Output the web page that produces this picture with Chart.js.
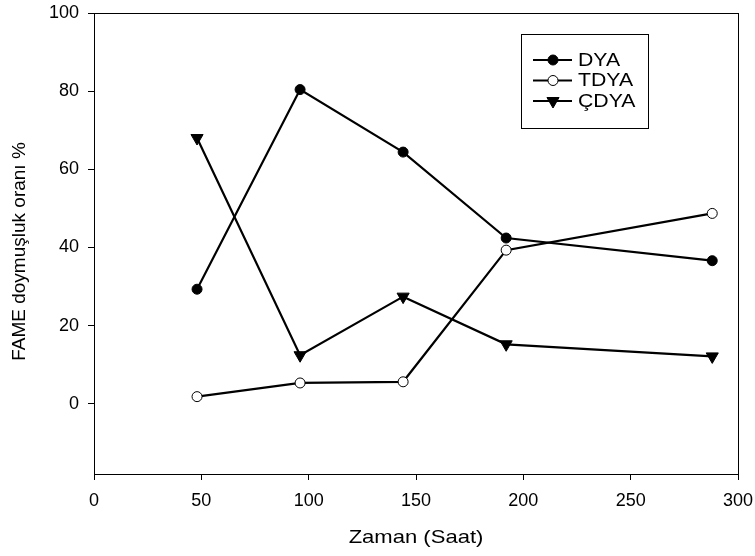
<!DOCTYPE html>
<html>
<head>
<meta charset="utf-8">
<script src="https://cdn.jsdelivr.net/npm/chart.js@4.4.0/dist/chart.umd.min.js"></script>
<style>
  html, body { margin: 0; padding: 0; background: #fff; }
  #wrap { width: 755px; height: 556px; }
</style>
</head>
<body>
<div id="wrap"><canvas id="fameChart"></canvas></div>
<script>
const FONT = "'Liberation Sans', Arial, sans-serif";
Chart.defaults.font.family = FONT;
Chart.defaults.color = "#000";

// Sampling times (hours) and saturation ratios for each fraction
const hours = [48, 96, 144, 192, 288];
const dya = [29.3, 80.4, 64.4, 42.4, 36.6];
const tdya = [1.8, 5.3, 5.6, 39.3, 48.7];
const cdya = [68.0, 12.4, 27.4, 15.2, 12.1];
const xTicks = [0, 50, 100, 150, 200, 250, 300];
const yTicks = [0, 20, 40, 60, 80, 100];
const xTitle = "Zaman (Saat)";
const yTitle = "FAME doymuşluk oranı %";

const toPoints = (vals) => hours.map((h, i) => ({ x: h, y: vals[i] }));

// text drawn slightly wider than the font's natural width
function wideText(ctx, text, x, y, size, align, sx) {
    ctx.save();
    ctx.translate(x, y);
    ctx.scale(sx, 1);
    ctx.font = size + "px " + FONT;
    ctx.textAlign = align;
    ctx.textBaseline = "middle";
    ctx.fillStyle = "#000";
    ctx.fillText(text, 0, 0);
    ctx.restore();
}

// Box around the plot area plus the two axis titles
const frame = {
    id: "frame",
    afterDraw(chart) {
        const { ctx, chartArea: a } = chart;
        ctx.save();
        ctx.strokeStyle = "#000";
        ctx.lineWidth = 1;
        ctx.strokeRect(Math.round(a.left) + 0.5, Math.round(a.top) + 0.5,
            Math.round(a.right - a.left), Math.round(a.bottom - a.top));
        ctx.restore();

        wideText(ctx, xTitle, (a.left + a.right) / 2, 538, 19, "center", 1.16);

        ctx.save();
        ctx.translate(20, (a.top + a.bottom) / 2 + 8);
        ctx.rotate(-Math.PI / 2);
        wideText(ctx, yTitle, 0, 0, 19, "center", 1);
        ctx.restore();
    },
};

// Boxed legend with line-through-marker samples
const boxLegend = {
    id: "boxLegend",
    afterDraw(chart) {
        const { ctx } = chart;
        const x0 = 521, y0 = 34, w = 127, h = 94;
        ctx.save();
        ctx.fillStyle = "#fff";
        ctx.fillRect(x0, y0, w, h);
        ctx.strokeStyle = "#000";
        ctx.lineWidth = 1;
        ctx.strokeRect(x0 + 0.5, y0 + 0.5, w, h);
        chart.data.datasets.forEach((ds, i) => {
            const y = 60 + i * 20.5;
            ctx.strokeStyle = "#000";
            ctx.lineWidth = 2;
            ctx.beginPath();
            ctx.moveTo(533, y);
            ctx.lineTo(572, y);
            ctx.stroke();
            ctx.fillStyle = ds.pointBackgroundColor;
            ctx.lineWidth = 1;
            ctx.beginPath();
            const r = ds.pointRadius;
            if (ds.pointStyle === "circle") {
                ctx.arc(553, y, r, 0, Math.PI * 2);
            } else {
                ctx.moveTo(553 - r * 0.866, y - r / 2);
                ctx.lineTo(553 + r * 0.866, y - r / 2);
                ctx.lineTo(553, y + r);
                ctx.closePath();
            }
            ctx.fill();
            ctx.stroke();
            wideText(ctx, ds.label, 578, y + 1, 18, "left", 1.18);
        });
        ctx.restore();
    },
};

const ctx = document.getElementById("fameChart").getContext("2d");
new Chart(ctx, {
    type: "line",
    data: {
        datasets: [
            {
                label: "DYA",
                data: toPoints(dya),
                borderColor: "#000",
                borderWidth: 2.2,
                pointStyle: "circle",
                pointRadius: 5,
                pointBackgroundColor: "#000",
                pointBorderColor: "#000",
                pointBorderWidth: 1,
            },
            {
                label: "TDYA",
                data: toPoints(tdya),
                borderColor: "#000",
                borderWidth: 2.2,
                pointStyle: "circle",
                pointRadius: 5,
                pointBackgroundColor: "#fff",
                pointBorderColor: "#000",
                pointBorderWidth: 1,
            },
            {
                label: "ÇDYA",
                data: toPoints(cdya),
                borderColor: "#000",
                borderWidth: 2.2,
                pointStyle: "triangle",
                pointRotation: 180,
                pointRadius: 7,
                pointBackgroundColor: "#000",
                pointBorderColor: "#000",
                pointBorderWidth: 1,
            },
        ],
    },
    options: {
        responsive: true,
        maintainAspectRatio: false,
        animation: false,
        layout: { padding: { left: 0, right: 17, top: 13, bottom: 0 } },
        plugins: {
            legend: { display: false },
            tooltip: { enabled: false },
        },
        scales: {
            x: {
                type: "linear",
                min: 0,
                max: 300,
                afterBuildTicks: (s) => { s.ticks = xTicks.map((v) => ({ value: v })); },
                afterFit: (s) => {
                    s.height = 82;
                    s.paddingLeft = 0;
                    s.paddingRight = 0;
                },
                grid: { drawOnChartArea: false, drawTicks: true, tickLength: 6, color: "#000" },
                border: { display: true, color: "#000", width: 1 },
                ticks: { padding: 10, font: { size: 18 }, maxRotation: 0 },
            },
            y: {
                type: "linear",
                min: -18,
                max: 100,
                afterBuildTicks: (s) => { s.ticks = yTicks.map((v) => ({ value: v })); },
                afterFit: (s) => {
                    s.width = 94;
                    s.paddingTop = 0;
                    s.paddingBottom = 0;
                },
                grid: { drawOnChartArea: false, drawTicks: true, tickLength: 6, color: "#000" },
                border: { display: true, color: "#000", width: 1 },
                ticks: { padding: 9, font: { size: 18 } },
            },
        },
    },
    plugins: [frame, boxLegend],
});
</script>
</body>
</html>
